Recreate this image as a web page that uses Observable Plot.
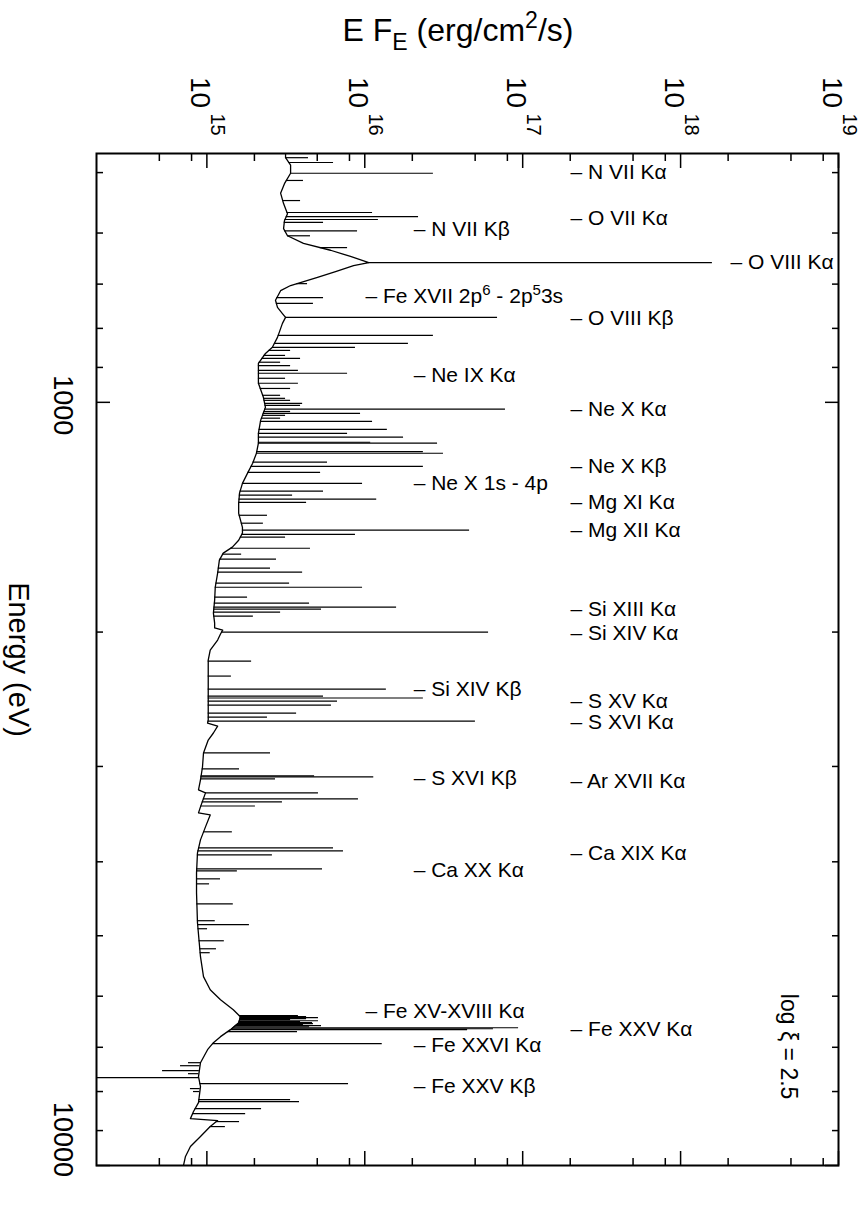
<!DOCTYPE html>
<html><head><meta charset="utf-8">
<script src="https://cdn.jsdelivr.net/npm/d3@7"></script>
<script src="https://cdn.jsdelivr.net/npm/@observablehq/plot@0.6"></script>
<style>
body{margin:0;background:#fff;font-family:"Liberation Sans",Arial,sans-serif;}
#title{position:relative;height:60px;width:867px;}
#title span{position:absolute;left:458px;top:30px;transform:translate(-50%,-50%);font-size:32px;white-space:nowrap;line-height:1;}
#title sub{font-size:0.72em;vertical-align:-0.4em;line-height:0;}
#title sup{font-size:0.72em;vertical-align:0.55em;line-height:0;}
</style></head><body>
<div id="title"><span>E F<sub>E</sub> (erg/cm<sup>2</sup>/s)</span></div>
<div id="chart"></div>
<script>
// Continuum (energy in eV, E*F_E in erg/cm^2/s)
const contE = [472,478,489,501,517,532,549,566,578,592,605,619,632,644,656,662,674,686,703,714,735,751,765,774,788,822,847,863,889,944,985,1015,1056,1098,1131,1166,1202,1238,1277,1315,1356,1398,1458,1484,1516,1548,1576,1610,1674,1747,1816,1889,1947,1975,1988,2012,2049,2112,2177,2382,2608,2632,2656,2712,2770,2880,3005,3125,3220,3249,3389,3451,3472,3600,3744,3893,4136,4393,4808,5326,5656,5884,6064,6249,6383,6499,6637,6779,6903,7051,7333,7647,7881,8271,8498,8681,8732,8892,9164,9443,9731,10000];
const contF = [3.15e15,3.15e15,3.39e15,3.39e15,3.10e15,2.93e15,3.06e15,3.24e15,3.10e15,3.06e15,3.24e15,4.09e15,6.07e15,8.12e15,1.06e16,8.49e15,6.53e15,5.02e15,3.39e15,2.93e15,2.72e15,2.80e15,3.01e15,3.15e15,3.01e15,2.80e15,2.60e15,2.35e15,2.12e15,2.12e15,2.28e15,2.35e15,2.19e15,2.12e15,2.12e15,2.06e15,1.95e15,1.81e15,1.68e15,1.61e15,1.59e15,1.59e15,1.68e15,1.68e15,1.59e15,1.45e15,1.27e15,1.20e15,1.17e15,1.13e15,1.12e15,1.10e15,1.12e15,1.12e15,1.26e15,1.22e15,1.17e15,1.05e15,1.02e15,1.02e15,1.02e15,1.01e15,1.17e15,1.10e15,1.02e15,9.52e14,9.38e14,9.11e14,8.85e14,9.80e14,9.11e14,8.85e14,1.05e15,9.80e14,9.11e14,8.72e14,8.60e14,8.60e14,8.72e14,9.11e14,9.52e14,1.05e15,1.22e15,1.47e15,1.63e15,1.59e15,1.41e15,1.22e15,1.10e15,1.01e15,9.11e14,8.85e14,9.11e14,8.85e14,8.23e14,7.87e14,1.17e15,1.05e15,9.11e14,7.87e14,7.32e14,7.11e14];

// Line spikes (energy, peak E*F_E)
const lineE = [478,485,501,512,544,564,571,576,581,596,605,627,656,699,729,742,774,817,837,847,855,868,876,886,895,908,916,930,944,959,979,988,994,1003,1009,1021,1028,1034,1040,1049,1059,1085,1098,1111,1128,1131,1160,1166,1198,1213,1235,1277,1307,1323,1339,1352,1406,1440,1470,1489,1502,1553,1581,1605,1649,1669,1725,1747,1800,1833,1855,1866,1883,1906,2000,2183,2284,2376,2426,2440,2463,2493,2554,2585,2616,2880,3022,3086,3096,3115,3249,3308,3339,3380,3654,3835,3870,3917,4086,4111,4211,4275,4541,4778,4836,4895,5076,5200,5262,6364,6383,6402,6421,6441,6461,6480,6499,6519,6539,6559,6579,6599,6619,6637,6677,6923,7333,7400,7511,7580,7672,7811,7929,8000,8197,8246,8423,8550,8759,8892];
const lineF = [4.40e15,6.34e15,2.72e16,4.09e15,3.92e15,1.12e16,2.19e16,1.22e16,5.48e15,9.00e15,4.53e15,7.78e15,1.59e18,4.34e15,5.48e15,4.73e15,6.93e16,2.72e16,1.89e16,8.73e15,3.39e15,3.15e15,3.92e15,2.93e15,3.39e15,3.80e15,7.78e15,3.15e15,3.80e15,3.39e15,2.93e15,3.15e15,3.39e15,4.04e15,3.92e15,7.78e16,3.39e15,9.40e15,3.15e15,2.93e15,1.12e16,1.39e16,7.78e15,1.76e16,1.09e16,2.89e16,2.35e16,3.15e16,5.81e15,2.35e16,5.25e15,9.68e15,5.48e15,3.49e15,1.19e16,4.28e15,2.42e15,2.28e15,4.61e16,8.73e15,3.15e15,4.53e15,1.66e15,2.76e15,2.53e15,4.04e15,3.34e15,9.68e15,1.81e15,4.47e15,1.59e16,5.32e15,2.93e15,1.97e15,6.08e16,1.92e15,1.43e15,1.37e16,5.48e15,2.35e16,6.72e15,6.15e15,3.70e15,2.42e15,5.02e16,2.53e15,1.61e15,4.81e15,1.14e16,2.72e15,5.09e15,9.12e15,3.01e15,2.03e15,1.45e15,6.34e15,7.33e15,2.60e15,5.40e15,1.56e15,1.22e15,1.04e15,1.47e15,1.13e15,1.86e15,1.01e15,1.29e15,1.15e15,1.05e15,3.80e15,4.28e15,5.09e15,4.28e15,3.39e15,5.09e15,3.92e15,4.67e15,4.73e15,4.09e15,5.32e15,4.47e15,9.42e16,6.53e16,4.48e16,3.75e15,1.29e16,7.65e14,6.81e14,5.24e14,7.65e14,2.0e14,7.89e15,7.87e14,8.23e14,3.39e15,3.86e15,2.22e15,1.76e15,1.61e15,1.31e15];

// Line identifications
const labelText = ["– N VII Kα","– O VII Kα","– N VII Kβ","– O VIII Kα","– Fe XVII 2p⁶ - 2p⁵3s","– O VIII Kβ","– Ne IX Kα","– Ne X Kα","– Ne X Kβ","– Ne X 1s - 4p","– Mg XI Kα","– Mg XII Kα","– Si XIII Kα","– Si XIV Kα","– Si XIV Kβ","– S XV Kα","– S XVI Kα","– S XVI Kβ","– Ar XVII Kα","– Ca XIX Kα","– Ca XX Kα","– Fe XV-XVIII Kα","– Fe XXV Kα","– Fe XXVI Kα","– Fe XXV Kβ"];
const labelE = [500,574,593,656,727,775,922,1022,1211,1277,1352,1472,1865,2006,2377,2461,2622,3107,3140,3902,4107,6280,6620,6966,7881];
const labelF = [2.01e17,2.01e17,2.04e16,2.07e18,1.01e16,2.01e17,2.04e16,2.01e17,2.01e17,2.04e16,2.01e17,2.01e17,2.01e17,2.01e17,2.04e16,2.01e17,2.01e17,2.04e16,2.01e17,2.01e17,2.04e16,1.01e16,2.01e17,2.04e16,2.04e16];

// Annotation
const noteText = ["log ξ = 2.5"];
const noteE = [6986];
const noteF = [4.83e18];

// Ticks
const fluxMajor = [1e15,1e16,1e17,1e18,1e19];
const fluxExp = ["15","16","17","18","19"];
const fluxMinor = [5e14,8e14,2e15,5e15,8e15,2e16,5e16,8e16,2e17,5e17,8e17,2e18,5e18,8e18];
const energyMajor = [1000,10000];
const energyMinor = [500,600,700,800,900,2000,3000,4000,5000,6000,7000,8000,9000];

// Build tables
const cont = contE.map((e,i)=>({e, f: contF[i]}));
const lcE = contE.map(Math.log10), lcF = contF.map(Math.log10);
function contAt(e){
  const le = Math.log10(e);
  let i = d3.bisectRight(lcE, le);
  i = Math.max(1, Math.min(lcE.length-1, i));
  const t = (le - lcE[i-1])/(lcE[i]-lcE[i-1]);
  return Math.pow(10, lcF[i-1] + t*(lcF[i]-lcF[i-1]));
}
const spikes = lineE.map((e,i)=>({e, f: lineF[i], base: contAt(e)}));
const labels = labelText.map((t,i)=>({t, e: labelE[i], f: labelF[i]}));
const notes = noteText.map((t,i)=>({t, e: noteE[i], f: noteF[i]}));

const font = '"Liberation Sans", Arial, sans-serif';
const tickW = 1.5;
const txt = {rotate: 90, textAnchor: "middle", lineAnchor: "middle", fill: "black"};
const chart = Plot.plot({
  width: 867, height: 1163,
  marginLeft: 96, marginRight: 29, marginTop: 93, marginBottom: 58,
  style: {fontFamily: font, background: "white", color: "black", overflow: "visible"},
  x: {type: "log", domain: [2e14, 1e19]},
  y: {type: "log", domain: [472, 10000], reverse: true},
  marks: [
    Plot.line(cont, {x: "f", y: "e", stroke: "black", strokeWidth: 1.3, clip: true}),
    Plot.ruleY(spikes, {y: "e", x1: "base", x2: "f", stroke: "black", strokeWidth: 1.2, clip: true}),
    // inward ticks
    Plot.axisX(fluxMajor, {anchor: "top", tickSize: 14, dy: 14, tickFormat: () => "", label: null, strokeWidth: tickW}),
    Plot.axisX(fluxMinor, {anchor: "top", tickSize: 7, dy: 7, tickFormat: () => "", label: null, strokeWidth: tickW}),
    Plot.axisX(fluxMajor, {anchor: "bottom", tickSize: 14, dy: -14, tickFormat: () => "", label: null, strokeWidth: tickW}),
    Plot.axisX(fluxMinor, {anchor: "bottom", tickSize: 7, dy: -7, tickFormat: () => "", label: null, strokeWidth: tickW}),
    Plot.axisY(energyMajor, {anchor: "left", tickSize: 14, dx: 14, tickFormat: () => "", label: null, strokeWidth: tickW}),
    Plot.axisY(energyMinor, {anchor: "left", tickSize: 7, dx: 7, tickFormat: () => "", label: null, strokeWidth: tickW}),
    Plot.axisY(energyMajor, {anchor: "right", tickSize: 14, dx: -14, tickFormat: () => "", label: null, strokeWidth: tickW}),
    Plot.axisY(energyMinor, {anchor: "right", tickSize: 7, dx: -7, tickFormat: () => "", label: null, strokeWidth: tickW}),
    Plot.frame({stroke: "black", strokeWidth: 2}),
    // tick labels (rotated)
    Plot.text(fluxMajor, {x: d => d, text: () => "10", frameAnchor: "top", dy: -61, dx: -7, fontSize: 28, ...txt}),
    Plot.text(fluxMajor, {x: d => d, text: (d, i) => fluxExp[i], frameAnchor: "top", dy: -29, dx: 11, fontSize: 20, ...txt}),
    Plot.text(energyMajor.slice(0, 1), {y: d => d, text: d => String(d), frameAnchor: "left", dx: -34, dy: 3, fontSize: 27, ...txt}),
    Plot.text(energyMajor.slice(1), {y: d => d, text: d => String(d), frameAnchor: "left", dx: -34, dy: -26, fontSize: 27, ...txt}),
    Plot.text(["Energy (eV)"], {text: d => d, frameAnchor: "left", dx: -78, fontSize: 29, ...txt}),
    // line IDs
    Plot.text(labels, {x: "f", y: "e", text: "t", textAnchor: "start", lineAnchor: "middle", fontSize: 21, fill: "black"}),
    Plot.text(notes, {x: "f", y: "e", text: "t", fontSize: 23, ...txt})
  ]
});
// real superscripts for the Fe XVII label
d3.select(chart).selectAll("text").filter(function(){ return this.textContent.includes("2p⁶"); }).each(function(){
  const t = d3.select(this);
  const parts = [["– Fe XVII 2p", 0, null], ["6", -8, "15px"], [" - 2p", 8, null], ["5", -8, "15px"], ["3s", 8, null]];
  t.text(null);
  for (const [s, dy, fs] of parts) {
    const ts = t.append("tspan").attr("dy", dy).text(s);
    if (fs) ts.attr("font-size", fs);
  }
});
document.getElementById("chart").appendChild(chart);
</script></body></html>
